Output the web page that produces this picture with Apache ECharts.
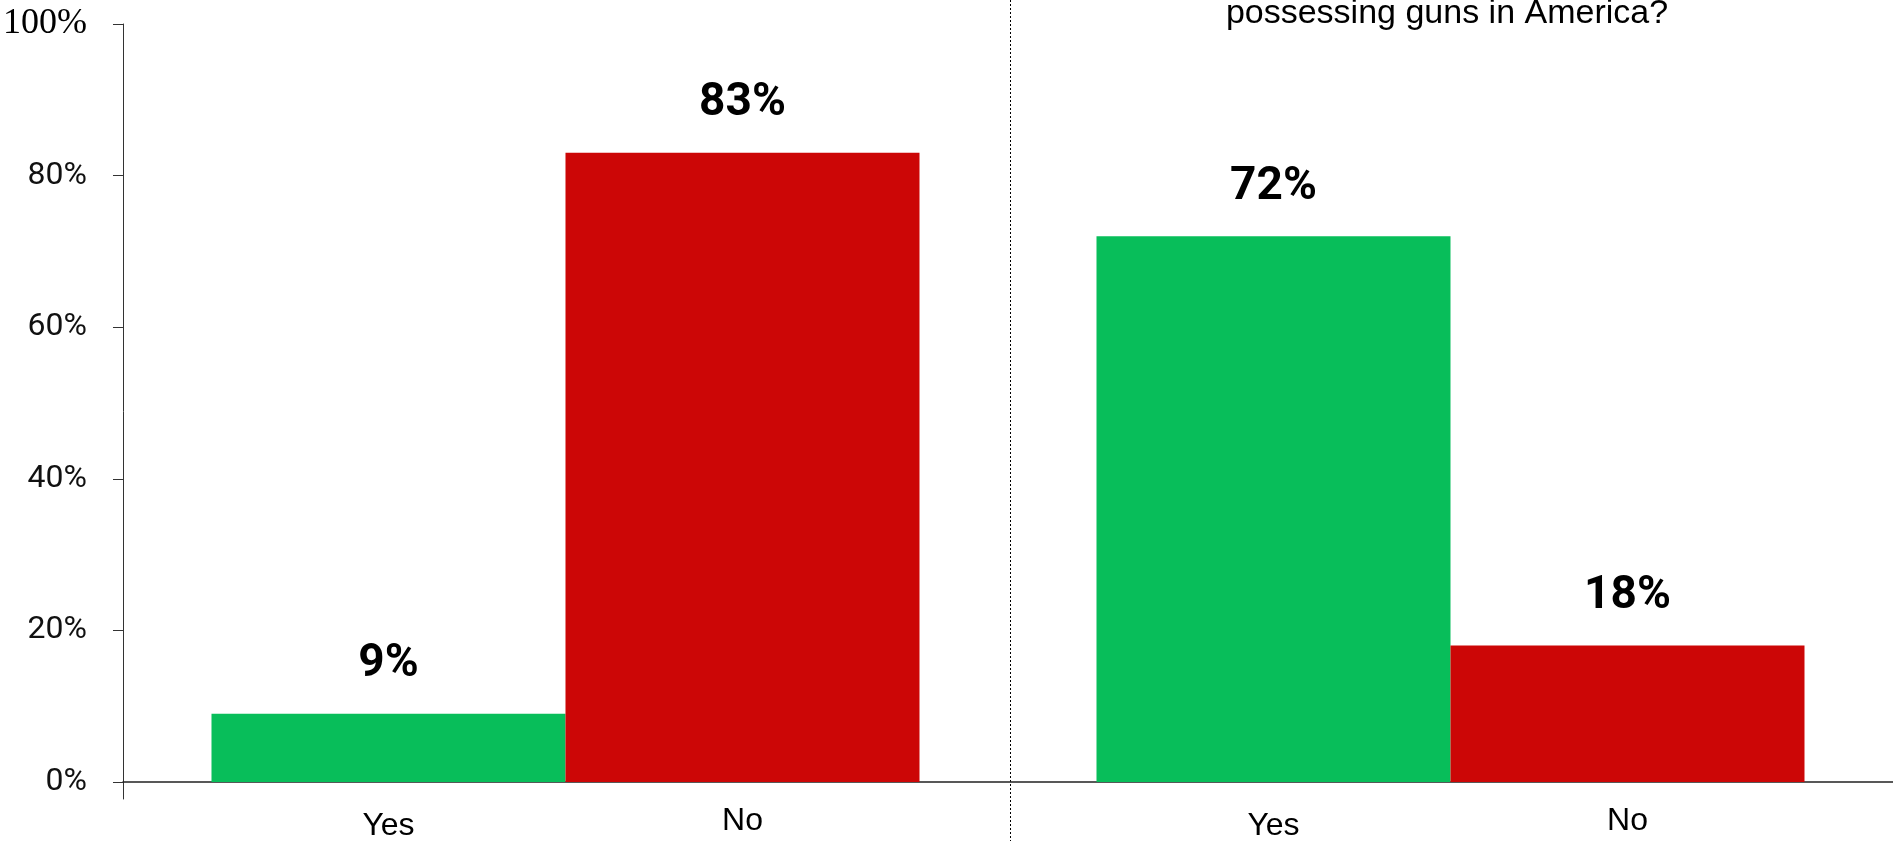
<!DOCTYPE html>
<html>
<head>
<meta charset="utf-8">
<script src="https://cdn.jsdelivr.net/npm/echarts@6/dist/echarts.min.js"></script>
<style>
  html, body { margin: 0; padding: 0; background: #fff; }
  #chart { width: 1893px; height: 841px; }
</style>
</head>
<body>
<div id="chart"></div>
<script>
// ---- data ----
const questions = ['Question 1', 'Question 2'];
const answers = ['Yes', 'No'];
const yesValues = [9, 72];
const noValues = [83, 18];
const yTicks = [0, 20, 40, 60, 80, 100];
const rightTitle = 'possessing guns in America?';

const GREEN = '#08BE5A';
const RED = '#CC0606';

// layout: the main plot area spans x 122 .. 1898; the divider sits on the category boundary
const PLOT_LEFT = 122, PLOT_RIGHT = -5, W = 1893;
const plotWidth = W - PLOT_RIGHT - PLOT_LEFT;
const dividerX = PLOT_LEFT + plotWidth / questions.length;

const chart = echarts.init(document.getElementById('chart'), null, { renderer: 'canvas' });

const valueLabel = {
  show: true,
  position: 'top',
  distance: 26,
  formatter: p => p.value + '%',
  fontFamily: 'Roboto',
  fontWeight: 'bold',
  fontSize: 46,
  color: '#000'
};

function nameLabel(txt, dist) {
  return {
    show: true,
    position: 'bottom',
    distance: dist,
    formatter: () => txt,
    fontFamily: 'Liberation Sans',
    fontSize: 32,
    color: '#000'
  };
}

const option = {
  animation: false,
  backgroundColor: '#fff',
  grid: [
    { left: PLOT_LEFT, right: PLOT_RIGHT, top: 24, bottom: 42, containLabel: false },
    { left: dividerX, right: -10, top: 0, bottom: 0, containLabel: false }
  ],
  xAxis: [
    {
      gridIndex: 0, type: 'category', data: questions,
      axisLine: { show: true, onZero: true, lineStyle: { color: '#222', width: 1.5 } },
      axisTick: { show: false }, axisLabel: { show: false }, splitLine: { show: false }
    },
    {
      gridIndex: 0, type: 'category', data: questions, position: 'top',
      axisLine: { show: false }, axisTick: { show: false }, axisLabel: { show: false }, splitLine: { show: false }
    },
    {
      gridIndex: 1, type: 'category', data: [questions[1]],
      axisLine: { show: false }, axisTick: { show: false }, axisLabel: { show: false },
      splitLine: { show: true, lineStyle: { color: '#000', type: [2, 2], width: 1 } }
    }
  ],
  yAxis: [
    {
      gridIndex: 0, type: 'value', min: -2.24, max: 100,
      axisLine: { show: true, lineStyle: { color: '#333', width: 1 } },
      axisTick: { show: true, length: 10, customValues: yTicks, lineStyle: { color: '#333' } },
      splitLine: { show: false },
      axisLabel: {
        show: true, customValues: yTicks, margin: 36,
        formatter: v => v === 100 ? '{s|100%}' : '{n|' + v + '%}',
        rich: {
          s: { fontFamily: 'Liberation Serif', fontSize: 36, color: '#000' },
          n: { fontFamily: 'Roboto', fontSize: 32, color: '#111' }
        }
      }
    },
    {
      gridIndex: 1, type: 'value', min: 0, max: 1,
      axisLine: { show: false }, axisTick: { show: false }, axisLabel: { show: false }, splitLine: { show: false }
    }
  ],
  graphic: [
    {
      type: 'text', silent: true,
      style: {
        x: 1447, y: 31, text: rightTitle, align: 'center', verticalAlign: 'bottom',
        fontFamily: 'Liberation Sans', fontSize: 34, fill: '#000'
      }
    }
  ],
  series: [
    {
      name: answers[0], type: 'bar', xAxisIndex: 0, yAxisIndex: 0, data: yesValues,
      barGap: 0, barCategoryGap: '20%', itemStyle: { color: GREEN }, label: valueLabel
    },
    {
      name: answers[1], type: 'bar', xAxisIndex: 0, yAxisIndex: 0, data: noValues,
      barGap: 0, barCategoryGap: '20%', itemStyle: { color: RED }, label: valueLabel
    },
    {
      name: answers[0] + ' label', type: 'bar', xAxisIndex: 1, yAxisIndex: 0, data: yesValues, silent: true,
      barGap: 0, barCategoryGap: '20%', itemStyle: { color: 'rgba(0,0,0,0)' }, label: nameLabel(answers[0], 28)
    },
    {
      name: answers[1] + ' label', type: 'bar', xAxisIndex: 1, yAxisIndex: 0, data: noValues, silent: true,
      barGap: 0, barCategoryGap: '20%', itemStyle: { color: 'rgba(0,0,0,0)' }, label: nameLabel(answers[1], 23)
    }
  ]
};

chart.setOption(option);
</script>
</body>
</html>
